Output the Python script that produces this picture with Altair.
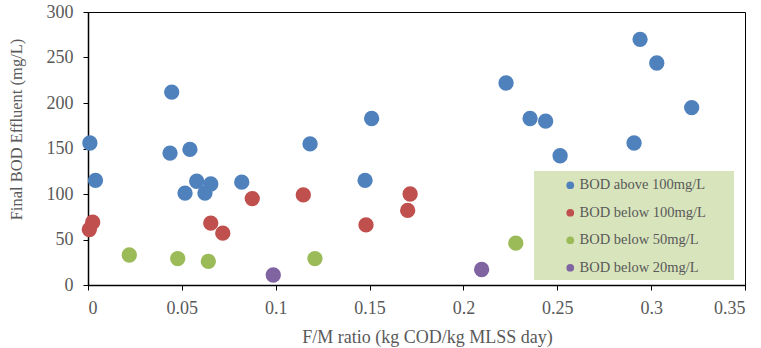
import altair as alt
import pandas as pd

groups = ["BOD above 100mg/L", "BOD below 100mg/L", "BOD below 50mg/L", "BOD below 20mg/L"]
colors = ["#4F81BD", "#C0504D", "#9BBB59", "#8064A2"]

blue_x = [0.001, 0.004, 0.0446, 0.0437, 0.0543, 0.0517, 0.0579, 0.0623, 0.0654, 0.0819, 0.1183, 0.1476, 0.1511,
          0.2941, 0.3030, 0.2227, 0.2355, 0.2438, 0.3216, 0.2909, 0.2515]
blue_y = [156, 115, 212, 145, 149, 101, 114, 101, 111, 113, 155, 115, 183,
          270, 244, 222, 183, 180, 195, 156, 142]
red_x = [0.0025, 0.0007, 0.0654, 0.0718, 0.0875, 0.1147, 0.1481, 0.1716, 0.1703]
red_y = [69, 61, 68, 57, 95, 99, 66, 100, 82]
green_x = [0.022, 0.0478, 0.0641, 0.1209, 0.2279]
green_y = [33, 29, 26, 29, 46]
purple_x = [0.0987, 0.2097]
purple_y = [11, 17]

rows = []
for g, xs, ys in zip(groups, [blue_x, red_x, green_x, purple_x], [blue_y, red_y, green_y, purple_y]):
    for a, b in zip(xs, ys):
        rows.append({"fm": a, "bod": b, "group": g})
df = pd.DataFrame(rows)

font = "Liberation Serif"
gray = "#595959"

points = alt.Chart(df).mark_circle(size=235, opacity=1).encode(
    x=alt.X("fm:Q", scale=alt.Scale(domain=[0, 0.35], nice=False),
            axis=alt.Axis(values=[0, 0.05, 0.1, 0.15, 0.2, 0.25, 0.3, 0.35], format=".2~f",
                          title="F/M ratio (kg COD/kg MLSS day)", grid=False,
                          labelPadding=9, titlePadding=11, titleFontSize=18, titleX=339)),
    y=alt.Y("bod:Q", scale=alt.Scale(domain=[0, 300], nice=False),
            axis=alt.Axis(values=[0, 50, 100, 150, 200, 250, 300],
                          title="Final BOD Effluent (mg/L)", grid=False,
                          labelPadding=10, titlePadding=22, titleFontSize=16.5, titleY=117)),
    color=alt.Color("group:N", scale=alt.Scale(domain=groups, range=colors),
                    legend=alt.Legend(title=None, orient="none", legendX=475, legendY=166,
                                      symbolType="circle", symbolSize=60, symbolStrokeWidth=0,
                                      labelFont=font, labelFontSize=14.5, labelColor=gray,
                                      labelOffset=2, rowPadding=12.5, padding=0)),
)

box = alt.Chart(alt.Data(values=[{}])).mark_rect(color="#d8e4bc").encode(
    x=alt.value(446), x2=alt.value(646), y=alt.value(159), y2=alt.value(268)
)

chart = alt.layer(points, box).properties(
    width=657, height=273,
    autosize=alt.AutoSizeParams(type="none"),
    padding={"left": 88, "top": 12, "right": 16, "bottom": 63},
).configure_view(stroke="#000000", strokeWidth=1).configure_axis(
    domainColor="#000000", domainWidth=1.5, tickColor="#000000", tickSize=5,
    labelFont=font, labelFontSize=18, labelColor=gray,
    titleFont=font, titleColor=gray, titleFontWeight="normal",
)

chart.save("out.html", embed_options={"renderer": "svg", "actions": False})
